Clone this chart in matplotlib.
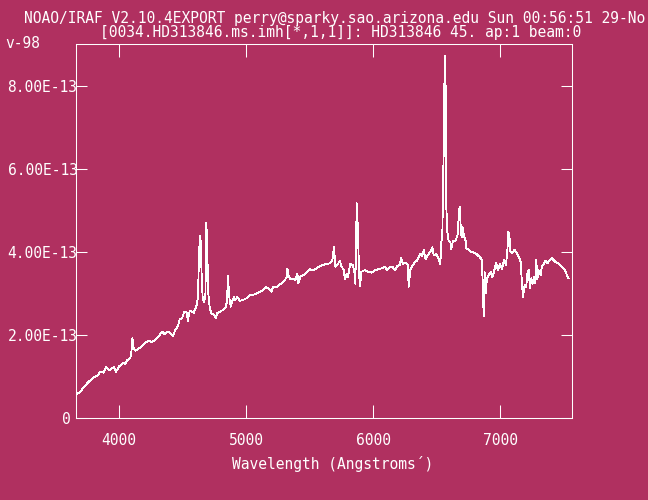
import numpy as np
import matplotlib
matplotlib.use("Agg")
import matplotlib.pyplot as plt

# Spectrum: wavelength (Angstroms) and flux in units of 1e-13.

wavelength = [
    3658, 3697, 3723, 3749, 3776, 3802, 3828, 3854, 3880, 3899,
    3920, 3933, 3959, 3977, 3998, 4012, 4032, 4051, 4064, 4090,
    4098, 4106, 4116, 4130, 4156, 4182, 4208, 4234, 4260, 4287,
    4313, 4339, 4358, 4384, 4405, 4423, 4444, 4463, 4478, 4496,
    4515, 4536, 4541, 4557, 4588, 4610, 4622, 4630, 4638, 4643,
    4651, 4659, 4669, 4680, 4688, 4696, 4704, 4714, 4728, 4748,
    4761, 4775, 4795, 4819, 4838, 4850, 4858, 4866, 4879, 4890,
    4905, 4916, 4932, 4950, 4976, 5003, 5029, 5055, 5082, 5108,
    5134, 5155, 5178, 5200, 5212, 5239, 5257, 5283, 5304, 5320,
    5325, 5336, 5351, 5370, 5388, 5404, 5412, 5430, 5456, 5475,
    5501, 5527, 5554, 5580, 5606, 5632, 5658, 5679, 5692, 5703,
    5724, 5737, 5750, 5768, 5779, 5794, 5802, 5821, 5841, 5852,
    5860, 5871, 5881, 5889, 5897, 5908, 5934, 5959, 5986, 6012,
    6038, 6065, 6091, 6109, 6130, 6156, 6172, 6188, 6209, 6219,
    6235, 6256, 6272, 6280, 6293, 6309, 6327, 6345, 6361, 6372,
    6387, 6398, 6413, 6431, 6450, 6466, 6476, 6498, 6513, 6529,
    6537, 6545, 6549, 6557, 6563, 6571, 6576, 6584, 6594, 6608,
    6615, 6628, 6649, 6667, 6675, 6683, 6689, 6696, 6704, 6715,
    6728, 6733, 6752, 6773, 6793, 6812, 6830, 6846, 6856, 6864,
    6870, 6877, 6885, 6896, 6911, 6925, 6938, 6951, 6969, 6982,
    6998, 7013, 7029, 7045, 7056, 7064, 7072, 7080, 7095, 7113,
    7131, 7147, 7161, 7171, 7179, 7192, 7205, 7213, 7224, 7234,
    7245, 7255, 7265, 7276, 7284, 7292, 7302, 7318, 7328, 7344,
    7355, 7371, 7389, 7407, 7423, 7441, 7462, 7481, 7499, 7515,
    7528, 7538,
]

flux_e13 = [
    0.56, 0.64, 0.75, 0.84, 0.92, 0.99, 1.02, 1.12, 1.10, 1.24,
    1.16, 1.18, 1.23, 1.12, 1.24, 1.28, 1.34, 1.31, 1.40, 1.45,
    1.60, 1.93, 1.69, 1.63, 1.68, 1.74, 1.82, 1.86, 1.84, 1.89,
    1.97, 2.09, 2.03, 2.09, 2.05, 1.98, 2.13, 2.21, 2.39, 2.41,
    2.57, 2.54, 2.33, 2.59, 2.54, 2.71, 2.93, 3.98, 4.39, 4.26,
    3.41, 2.87, 2.81, 2.93, 4.72, 3.81, 2.97, 2.67, 2.51, 2.50,
    2.41, 2.54, 2.57, 2.61, 2.67, 2.81, 3.43, 2.97, 2.69, 2.81,
    2.92, 2.85, 2.92, 2.83, 2.85, 2.89, 2.97, 2.97, 3.01, 3.05,
    3.09, 3.16, 3.12, 3.05, 3.16, 3.16, 3.21, 3.25, 3.32, 3.41,
    3.61, 3.41, 3.35, 3.37, 3.33, 3.49, 3.25, 3.43, 3.45, 3.51,
    3.59, 3.56, 3.61, 3.67, 3.69, 3.72, 3.73, 3.80, 4.12, 3.65,
    3.72, 3.80, 3.67, 3.57, 3.35, 3.49, 3.41, 3.73, 3.69, 3.53,
    3.24, 5.18, 4.50, 3.49, 3.19, 3.53, 3.57, 3.53, 3.51, 3.56,
    3.59, 3.61, 3.65, 3.57, 3.64, 3.64, 3.56, 3.67, 3.69, 3.86,
    3.72, 3.75, 3.69, 3.17, 3.57, 3.67, 3.75, 3.80, 3.89, 3.96,
    3.91, 4.06, 3.83, 3.93, 4.01, 4.12, 3.93, 3.96, 3.86, 3.72,
    4.24, 4.48, 5.40, 6.73, 8.74, 7.93, 5.08, 4.48, 4.28, 4.24,
    4.08, 4.27, 4.28, 4.44, 5.02, 5.10, 4.60, 4.36, 4.60, 4.40,
    4.28, 4.10, 4.06, 4.01, 3.99, 3.96, 3.91, 3.86, 3.81, 3.09,
    2.45, 3.53, 3.01, 3.37, 3.45, 3.53, 3.40, 3.53, 3.75, 3.56,
    3.73, 3.59, 3.81, 3.69, 4.01, 4.50, 4.42, 4.01, 3.98, 4.06,
    3.98, 3.89, 3.77, 3.25, 2.93, 3.21, 3.17, 3.49, 3.57, 3.13,
    3.37, 3.24, 3.40, 3.25, 3.81, 3.35, 3.57, 3.45, 3.65, 3.72,
    3.80, 3.73, 3.81, 3.86, 3.80, 3.75, 3.72, 3.67, 3.61, 3.53,
    3.43, 3.37,
]

x_ticks = [4000, 5000, 6000, 7000]
y_ticks = [0, 2e-13, 4e-13, 6e-13, 8e-13]
y_tick_labels = ["", "2.00E-13", "4.00E-13", "6.00E-13", "8.00E-13"]

title_1 = "NOAO/IRAF V2.10.4EXPORT perry@sparky.sao.arizona.edu Sun 00:56:51 29-No"
title_2 = "[0034.HD313846.ms.imh[*,1,1]]: HD313846 45. ap:1 beam:0"
title_3 = "v-98"
x_label = "Wavelength (Angstroms\u00b4)"

# IRAF look: maroon background, white lines, monospace text.

bg = "#b03060"
fg = "white"
matplotlib.rcParams["font.family"] = "DejaVu Sans Mono"
matplotlib.rcParams["font.size"] = 10.5

fig = plt.figure(figsize=(6.48, 5.0), dpi=100, facecolor=bg)
ax = fig.add_axes([75.5 / 648, 1 - 418.3 / 500, 496 / 648, 374 / 500])
ax.set_facecolor(bg)

ax.plot(wavelength, np.array(flux_e13) * 1e-13, color=fg, lw=0.6,
        antialiased=False)

ax.set_xlim(3658, 7561)
ax.set_ylim(0, 9.01e-13)

for s in ax.spines.values():
    s.set_color(fg)
    s.set_linewidth(0.75)

ax.set_xticks(x_ticks)
ax.set_xticklabels([str(t) for t in x_ticks])
ax.set_yticks(y_ticks)
ax.set_yticklabels(y_tick_labels)
ax.tick_params(axis="x", direction="in", length=9.5, width=0.75, color=fg,
               labelcolor=fg, pad=10.5, top=True)
ax.tick_params(axis="y", direction="in", length=8, width=0.75, color=fg,
               labelcolor=fg, pad=-1.5, right=True)

# Zero label sits a little further left than the others in IRAF.

fig.text(71 / 648, 1 - 420 / 500, "0", color=fg, ha="right", va="center")

# Header lines and axis label.

fig.text(24 / 648, 1 - 18 / 500, title_1, color=fg, ha="left", va="center")
fig.text(100 / 648, 1 - 32 / 500, title_2, color=fg, ha="left", va="center")
fig.text(5 / 648, 1 - 44 / 500, title_3, color=fg, ha="left", va="center")
fig.text(332.8 / 648, 1 - 463.7 / 500, x_label, color=fg, ha="center",
         va="center")

fig.savefig("out.png", dpi=100, facecolor=bg)
